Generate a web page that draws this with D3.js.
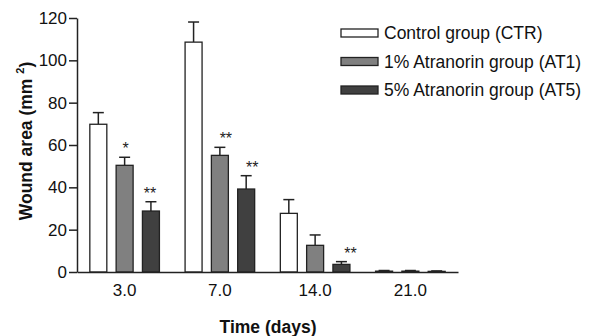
<!DOCTYPE html>
<html>
<head>
<meta charset="utf-8">
<script src="https://cdn.jsdelivr.net/npm/d3@7"></script>
<style>
  html, body { margin: 0; padding: 0; background: #fff; }
  svg { display: block; font-family: Arial, "Liberation Sans", sans-serif; }
  .axis path, .axis line { stroke: #222; stroke-width: 1.5; }
  .axis text { font-size: 17px; fill: #111; }
  .title { font-size: 17.5px; font-weight: bold; fill: #111; }
  .legend text { font-size: 17.5px; fill: #111; }
  .star { font-size: 16px; fill: #222; }
</style>
</head>
<body>
<svg width="592" height="336"></svg>
<script>
// days on the x axis
let days = ["3.0", "7.0", "14.0", "21.0"];
let groups = ["CTR", "AT1", "AT5"];
let groupNames = ["Control group (CTR)", "1% Atranorin group (AT1)", "5% Atranorin group (AT5)"];

// mean wound area (mm2), one array per group
let ctrMean = [69.8, 108.6, 27.7, 0.4];
let at1Mean = [50.4, 55.1, 12.6, 0.4];
let at5Mean = [28.8, 39.2, 3.6, 0.3];
// upper error bar (SD)
let ctrErr = [5.5, 9.5, 6.5, 0.3];
let at1Err = [3.8, 3.8, 4.9, 0.3];
let at5Err = [4.4, 6.3, 1.3, 0.2];

// significance marks: [day, group, label]
let marks = [
  ["3.0", "AT1", "*"],
  ["3.0", "AT5", "**"],
  ["7.0", "AT1", "**"],
  ["7.0", "AT5", "**"],
  ["14.0", "AT5", "**"],
];

let yTicks = [0, 20, 40, 60, 80, 100, 120];

function render() {
  let svg = d3.select("svg");
  let margin = {left: 77, top: 18, right: 134, bottom: 64};
  let width = 592 - margin.left - margin.right;
  let height = 336 - margin.top - margin.bottom;

  let fills = {CTR: "#ffffff", AT1: "#808080", AT5: "#404040"};
  let means = {CTR: ctrMean, AT1: at1Mean, AT5: at5Mean};
  let errs = {CTR: ctrErr, AT1: at1Err, AT5: at5Err};

  let g = svg.append("g")
    .attr("transform", `translate(${margin.left}, ${margin.top})`);

  let xScale = d3.scaleBand()
    .domain(days)
    .range([0, width]);
  let innerScale = d3.scaleBand()
    .domain(groups)
    .range([0, xScale.bandwidth()])
    .paddingInner(0.354)
    .paddingOuter(0.488);
  let yScale = d3.scaleLinear()
    .domain([0, 120])
    .range([height, 0]);

  let bars = [];
  groups.forEach(k => {
    days.forEach((d, i) => {
      bars.push({day: d, group: k, val: means[k][i], err: errs[k][i]});
    });
  });

  let bw = innerScale.bandwidth();
  let capW = 11;

  let gBar = g.selectAll(".bar")
    .data(bars)
    .enter()
    .append("g")
    .attr("class", "bar")
    .attr("transform", d => `translate(${xScale(d.day) + innerScale(d.group)}, 0)`);

  gBar.append("line")
    .attr("x1", bw / 2)
    .attr("x2", bw / 2)
    .attr("y1", d => yScale(d.val))
    .attr("y2", d => yScale(d.val + d.err))
    .attr("stroke", "#222")
    .attr("stroke-width", 1.5);
  gBar.append("line")
    .attr("x1", bw / 2 - capW / 2)
    .attr("x2", bw / 2 + capW / 2)
    .attr("y1", d => yScale(d.val + d.err))
    .attr("y2", d => yScale(d.val + d.err))
    .attr("stroke", "#222")
    .attr("stroke-width", 1.5);
  gBar.append("rect")
    .attr("x", 0)
    .attr("y", d => yScale(d.val))
    .attr("width", bw)
    .attr("height", d => height - yScale(d.val))
    .attr("fill", d => fills[d.group])
    .attr("stroke", "#222")
    .attr("stroke-width", 1.3);

  // little nudges so the stars sit where the original put them
  let starNudge = {"3.0AT1": 1, "3.0AT5": -1, "7.0AT1": 6, "7.0AT5": 6, "14.0AT5": 9};
  g.selectAll(".star")
    .data(marks)
    .enter()
    .append("text")
    .attr("class", "star")
    .attr("text-anchor", "middle")
    .attr("x", d => xScale(d[0]) + innerScale(d[1]) + bw / 2 + (starNudge[d[0] + d[1]] || 0))
    .attr("y", d => {
      let i = days.indexOf(d[0]);
      return yScale(means[d[1]][i] + errs[d[1]][i]) - 3;
    })
    .text(d => d[2]);

  let yAxis = d3.axisLeft(yScale)
    .tickValues(yTicks)
    .tickSize(8)
    .tickPadding(2)
    .tickSizeOuter(0);
  g.append("g")
    .attr("class", "axis y-axis")
    .call(yAxis);

  let xAxis = d3.axisBottom(xScale)
    .tickSize(0)
    .tickPadding(12)
    .tickSizeOuter(0);
  let gx = g.append("g")
    .attr("class", "axis x-axis")
    .attr("transform", `translate(0, ${height})`)
    .call(xAxis);
  gx.selectAll(".tick text").attr("dy", "0.71em");

  svg.append("text")
    .attr("class", "title")
    .attr("text-anchor", "middle")
    .attr("x", 268)
    .attr("y", 333)
    .text("Time (days)");

  let yTitle = svg.append("text")
    .attr("class", "title")
    .attr("text-anchor", "middle")
    .attr("transform", `translate(32, 141) rotate(-90)`);
  yTitle.append("tspan").text("Wound area (mm ");
  yTitle.append("tspan").attr("font-size", "11px").attr("dy", -8).text("2");
  yTitle.append("tspan").attr("dy", 8).text(")");

  let legend = svg.append("g")
    .attr("class", "legend")
    .attr("transform", "translate(341, 33)");
  let rows = legend.selectAll("g")
    .data(groups)
    .enter()
    .append("g")
    .attr("transform", (_, i) => `translate(0, ${i * 28.5})`);
  rows.append("rect")
    .attr("x", 0)
    .attr("y", -4)
    .attr("width", 37)
    .attr("height", 8)
    .attr("fill", d => fills[d])
    .attr("stroke", "#222")
    .attr("stroke-width", 1.3);
  rows.append("text")
    .attr("x", 43)
    .attr("y", 6)
    .text((_, i) => groupNames[i]);
}

render();
</script>
</body>
</html>
